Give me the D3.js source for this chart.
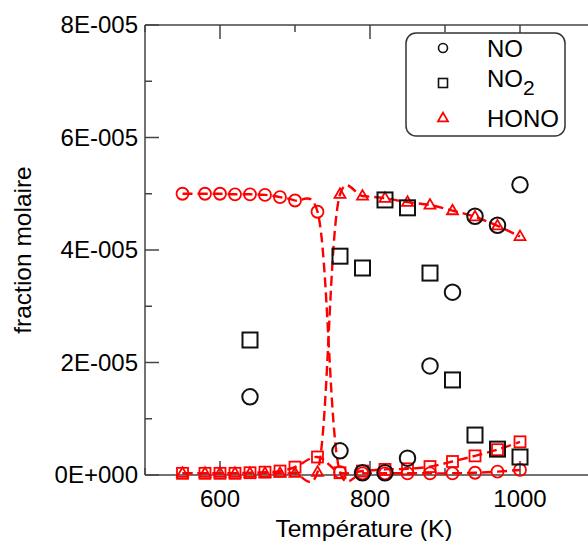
<!DOCTYPE html>
<html>
<head>
<meta charset="utf-8">
<script src="https://cdn.jsdelivr.net/npm/d3@7"></script>
<style>
  html, body { margin: 0; padding: 0; background: #fff; }
  svg { display: block; font-family: "Liberation Sans", Arial, sans-serif; }
</style>
</head>
<body>
<svg id="chart" width="588" height="541"></svg>
<script>
// ---- data (mole fractions in units of 1E-5) ----
const simTemps = [550, 580, 600, 620, 640, 660, 680, 700, 730, 760, 790, 820, 850, 880, 910, 940, 970, 1000];
const simNO   = [5.00, 5.00, 5.00, 4.99, 4.99, 4.98, 4.94, 4.88, 4.68, 0.05, 0.03, 0.03, 0.03, 0.03, 0.03, 0.04, 0.06, 0.09];
const simNO2  = [0.03, 0.03, 0.03, 0.03, 0.04, 0.05, 0.07, 0.14, 0.32, 0.04, 0.07, 0.10, 0.11, 0.15, 0.24, 0.34, 0.45, 0.59];
const simHONO = [0.03, 0.03, 0.03, 0.03, 0.03, 0.03, 0.03, 0.03, 0.05, 4.99, 4.96, 4.92, 4.85, 4.80, 4.70, 4.59, 4.43, 4.24];

const expTemps = [640, 760, 790, 820, 850, 880, 910, 940, 970, 1000];
const expNO    = [1.39, 0.43, 0.04, 0.04, 0.30, 1.94, 3.25, 4.60, 4.44, 5.16];
const expNO2   = [2.40, 3.89, 3.68, 4.89, 4.75, 3.59, 1.69, 0.71, 0.46, 0.32];

const xTickValues = [600, 800, 1000];
const xMinorTicks = [500, 700, 900, 1100];
const yTickValues = [0, 2, 4, 6, 8];
const yTickLabels = ["0E+000", "2E-005", "4E-005", "6E-005", "8E-005"];
const yMinorTicks = [1, 3, 5, 7];
const legendNames = ["NO", "NO", "HONO"];

// ---- layout ----
const svg = d3.select("#chart");
const L = 145, R = 595, T = 25, B = 475;
const x = d3.scaleLinear().domain([500, 1100]).range([L, R]);
const y = d3.scaleLinear().domain([0, 8]).range([B, T]);
const axisColor = "#444";
const red = "#ff0000";

// ---- frame ----
const frame = svg.append("g").attr("stroke", axisColor).attr("stroke-width", 1.5).attr("fill", "none");
frame.append("line").attr("x1", L).attr("x2", R + 10).attr("y1", B).attr("y2", B);
frame.append("line").attr("x1", L).attr("x2", R + 10).attr("y1", T).attr("y2", T);
frame.append("line").attr("x1", L).attr("x2", L).attr("y1", T).attr("y2", B);

const MAJ = 14, MIN = 7;
xTickValues.forEach(v => {
  frame.append("line").attr("x1", x(v)).attr("x2", x(v)).attr("y1", B).attr("y2", B - MAJ);
  frame.append("line").attr("x1", x(v)).attr("x2", x(v)).attr("y1", T).attr("y2", T + MAJ);
});
xMinorTicks.forEach(v => {
  frame.append("line").attr("x1", x(v)).attr("x2", x(v)).attr("y1", B).attr("y2", B - MIN);
  frame.append("line").attr("x1", x(v)).attr("x2", x(v)).attr("y1", T).attr("y2", T + MIN);
});
yTickValues.forEach(v => {
  frame.append("line").attr("x1", L).attr("x2", L + MAJ).attr("y1", y(v)).attr("y2", y(v));
});
yMinorTicks.forEach(v => {
  frame.append("line").attr("x1", L).attr("x2", L + MIN).attr("y1", y(v)).attr("y2", y(v));
});

// tick labels
svg.append("g").selectAll("text").data(xTickValues).join("text")
  .attr("x", d => x(d)).attr("y", 507).attr("text-anchor", "middle")
  .attr("font-size", 24).text(d => d);
svg.append("g").selectAll("text").data(yTickValues).join("text")
  .attr("x", 138).attr("y", d => y(d)).attr("dy", "0.35em").attr("text-anchor", "end")
  .attr("font-size", 24).text((d, i) => yTickLabels[i]);

// axis titles
svg.append("text").attr("x", 364).attr("y", 537).attr("text-anchor", "middle")
  .attr("font-size", 24.5).text("Température (K)");
svg.append("text").attr("transform", "translate(31,250) rotate(-90)")
  .attr("text-anchor", "middle").attr("font-size", 24.5).text("fraction molaire");

// ---- simulation curves ----
const line = d3.line().x(d => x(d[0])).y(d => y(d[1])).curve(d3.curveCatmullRom.alpha(0.2));
const simSeries = [
  { vals: simNO, shape: "circle" },
  { vals: simNO2, shape: "square" },
  { vals: simHONO, shape: "triangle" }
];
const gSim = svg.append("g");
simSeries.forEach(s => {
  const pts = simTemps.map((t, i) => [t, s.vals[i]]);
  gSim.append("path").attr("d", line(pts)).attr("fill", "none")
    .attr("stroke", red).attr("stroke-width", 2.4).attr("stroke-dasharray", "10,5");
});

function drawMarker(g, shape, cx, cy, size, color, sw) {
  if (shape === "circle") {
    g.append("circle").attr("cx", cx).attr("cy", cy).attr("r", size / 2)
      .attr("fill", "none").attr("stroke", color).attr("stroke-width", sw);
  } else if (shape === "square") {
    g.append("rect").attr("x", cx - size / 2).attr("y", cy - size / 2)
      .attr("width", size).attr("height", size)
      .attr("fill", "none").attr("stroke", color).attr("stroke-width", sw);
  } else {
    const h = size * 0.866;
    g.append("path")
      .attr("d", `M${cx},${cy - h * 0.62}L${cx + size / 2},${cy + h * 0.38}L${cx - size / 2},${cy + h * 0.38}Z`)
      .attr("fill", "none").attr("stroke", color).attr("stroke-width", sw);
  }
}

simSeries.forEach(s => {
  simTemps.forEach((t, i) => {
    drawMarker(gSim, s.shape, x(t), y(s.vals[i]), s.shape === "circle" ? 12 : 11, red, 1.8);
  });
});

// ---- experimental points ----
const gExp = svg.append("g");
expTemps.forEach((t, i) => drawMarker(gExp, "circle", x(t), y(expNO[i]), 15.5, "#111", 2));
expTemps.forEach((t, i) => drawMarker(gExp, "square", x(t), y(expNO2[i]), 15, "#111", 2));

// ---- legend ----
const lg = svg.append("g");
lg.append("rect").attr("x", 406).attr("y", 33).attr("width", 159).attr("height", 103)
  .attr("rx", 10).attr("fill", "#fff").attr("stroke", "#333").attr("stroke-width", 1.5);
drawMarker(lg, "circle", 443, 48, 9, "#111", 1.6);
drawMarker(lg, "square", 443, 83, 9, "#111", 1.6);
drawMarker(lg, "triangle", 443, 118, 10, red, 1.8);
lg.append("text").attr("x", 487).attr("y", 57).attr("font-size", 24).text(legendNames[0]);
const t2 = lg.append("text").attr("x", 487).attr("y", 87).attr("font-size", 24).text(legendNames[1]);
t2.append("tspan").attr("font-size", 21).attr("dy", 8).text("2");
lg.append("text").attr("x", 487).attr("y", 127).attr("font-size", 24).text(legendNames[2]);
</script>
</body>
</html>
